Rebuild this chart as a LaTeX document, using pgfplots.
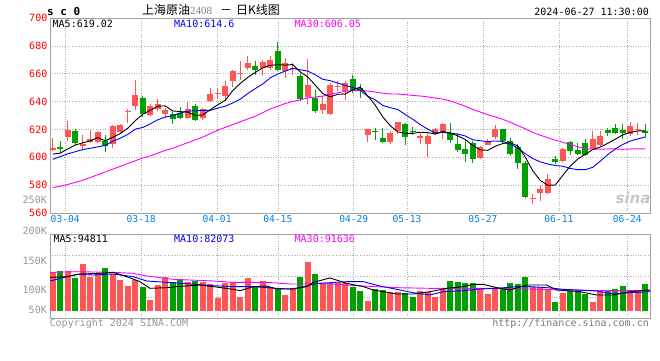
\documentclass[border=0pt]{standalone}
\usepackage{pgfplots}
\pgfplotsset{compat=1.18}
\usepackage{pgfplotstable}
\usepackage{fontspec}
\setmainfont{DejaVu Sans Mono}
\newfontfamily\mono{DejaVu Sans Mono}
\newfontfamily\cjk{Noto Sans CJK SC}
\newfontfamily\serifd{Liberation Serif}
\newfontfamily\sinafont{DejaVu Sans}
\definecolor{cred}{RGB}{255,85,85}
\definecolor{cgreen}{RGB}{0,160,0}
\definecolor{tickred}{RGB}{255,0,0}
\definecolor{datecol}{RGB}{0,128,224}
\definecolor{bordergray}{RGB}{160,160,160}
\definecolor{gridgray}{RGB}{175,175,175}
\definecolor{labgray}{RGB}{150,150,150}
\definecolor{mablue}{RGB}{0,0,255}
\definecolor{mamag}{RGB}{255,0,255}

\pgfplotstableread{
i o h l c
0 605.2 614.0 604.5 606.4
2 614.8 626.4 611.7 619.5
4 608.1 615.7 605.2 609.8
5 611.2 619.3 610.5 613.3
6 611.2 619.0 610.0 618.1
8 609.3 622.9 606.9 622.4
9 618.3 623.6 617.6 622.9
10 632.2 635.0 624.8 632.9
11 636.7 655.7 634.3 645.0
13 630.7 637.9 629.6 636.7
14 635.0 641.5 633.1 637.9
15 631.2 635.5 628.4 633.6
18 628.4 639.8 627.2 635.0
20 628.4 635.5 627.0 635.0
21 640.3 649.8 640.0 645.7
22 645.5 649.8 641.5 646.2
23 644.3 654.6 640.3 651.0
24 654.6 662.9 650.3 661.7
25 659.8 668.8 655.7 660.5
26 664.0 672.4 662.9 668.0
28 664.1 670.0 658.1 668.3
29 664.1 672.4 663.0 670.0
31 661.7 671.2 656.9 667.6
32 663.2 667.6 659.3 664.0
34 643.1 670.7 637.9 652.1
36 634.3 643.8 631.2 637.9
37 631.2 653.3 630.2 651.7
38 650.5 654.5 647.4 651.2
39 647.9 654.5 641.4 653.3
42 615.9 620.2 611.0 620.0
45 611.0 618.8 609.3 617.1
46 618.8 625.5 616.4 625.2
49 613.8 617.6 609.3 615.2
50 609.3 616.4 600.5 615.2
51 616.4 621.2 615.7 620.5
52 617.6 624.3 612.9 623.6
57 599.8 608.1 598.6 607.6
58 608.8 613.3 608.5 611.0
59 614.5 622.9 612.9 620.0
64 570.3 573.6 566.4 571.0
65 574.3 580.0 568.8 577.1
66 574.5 587.9 574.0 584.3
68 597.4 606.9 596.7 605.7
72 606.2 618.8 606.0 613.3
73 608.6 618.8 608.3 615.2
77 616.4 625.2 615.2 622.4
78 619.8 624.3 615.7 620.5
}\upcandles

\pgfplotstableread{
i o h l c
1 607.4 611.7 602.9 606.2
3 618.8 620.5 608.6 610.0
7 611.7 615.7 603.8 608.1
12 642.6 644.3 629.0 631.2
16 631.2 633.1 623.6 627.2
17 631.9 636.0 627.2 628.4
19 636.7 637.9 626.0 626.5
27 665.2 669.3 659.3 662.4
30 676.0 683.1 661.7 662.9
33 658.1 659.8 640.2 642.1
35 642.6 648.6 631.9 633.1
40 656.5 659.3 646.5 648.6
41 649.8 652.9 642.6 647.4
43 618.6 621.2 612.4 617.9
44 613.6 621.2 610.5 611.0
47 623.6 624.8 608.6 614.8
48 618.6 621.9 615.7 617.9
53 617.6 624.5 610.5 612.4
54 609.3 617.6 603.8 605.2
55 605.7 612.4 596.7 602.1
56 610.0 611.7 595.7 599.0
60 620.0 620.5 610.5 611.7
61 611.7 614.0 601.0 602.1
62 607.6 609.8 591.9 595.7
63 595.7 597.4 570.5 571.2
67 599.0 601.0 595.5 596.9
69 611.0 611.7 601.4 604.5
70 605.2 610.5 601.4 602.1
71 610.0 613.3 601.0 601.7
74 619.5 621.2 615.2 617.6
75 621.2 623.6 616.4 617.1
76 619.5 623.6 613.3 617.1
79 618.8 623.6 614.0 617.6
}\dncandles

\pgfplotstableread{
i ma5 ma10 ma30
0 602.3 598.5 578.3
1 603.0 600.5 579.2
2 606.0 602.5 580.5
3 608.8 604.0 582.0
4 610.4 605.5 583.5
5 611.8 606.5 585.5
6 614.1 607.5 587.5
7 611.9 608.5 589.5
8 614.3 611.5 591.5
9 617.0 613.7 593.5
10 620.9 616.4 595.5
11 626.3 620.2 597.5
12 630.9 621.4 599.5
13 633.7 624.0 601.0
14 636.7 626.9 603.0
15 636.9 628.9 605.0
16 633.3 629.8 606.5
17 632.8 631.9 608.5
18 632.4 633.1 610.5
19 630.1 633.4 612.5
20 630.4 633.7 614.5
21 634.1 633.7 617.0
22 637.7 635.3 619.5
23 640.9 636.7 621.5
24 647.9 639.0 623.5
25 653.0 641.7 625.5
26 657.4 645.8 627.5
27 660.9 649.3 629.5
28 664.3 652.6 632.0
29 666.0 657.0 634.7
30 666.5 659.8 636.6
31 666.2 661.9 638.6
32 666.6 663.8 640.1
33 661.3 662.8 641.2
34 657.7 661.9 642.6
35 651.8 659.2 643.3
36 645.8 656.0 643.9
37 643.4 655.0 645.4
38 645.2 653.3 646.3
39 645.4 651.6 647.3
40 648.5 650.2 647.9
41 650.4 648.1 647.9
42 644.1 643.8 647.6
43 637.4 641.3 646.9
44 629.0 637.2 646.0
45 622.7 635.6 645.5
46 618.2 634.3 645.4
47 617.2 630.7 645.0
48 617.2 627.3 644.4
49 618.0 623.5 644.0
50 617.7 620.2 643.4
51 616.7 617.5 642.5
52 618.5 617.9 641.8
53 617.4 617.3 640.5
54 615.4 616.7 638.6
55 612.8 615.3 636.7
56 608.5 612.6 634.4
57 605.3 611.9 632.5
58 605.0 611.2 630.6
59 607.9 611.7 629.0
60 609.9 611.4 627.3
61 610.5 609.5 625.1
62 608.1 606.7 622.8
63 600.1 602.6 620.5
64 590.3 599.1 617.8
65 583.4 596.7 615.9
66 579.9 595.2 614.1
67 580.1 594.1 612.3
68 587.0 593.6 610.8
69 593.7 592.0 609.2
70 598.7 591.1 607.6
71 602.2 591.1 606.1
72 605.5 592.8 605.9
73 607.4 597.2 605.8
74 610.0 601.9 606.0
75 613.0 605.9 606.0
76 616.1 609.2 605.7
77 617.9 611.7 606.0
78 618.9 613.2 606.1
79 619.0 614.6 606.05
}\matable

\pgfplotstableread{
i v
0 131.5
2 133.9
4 147.0
5 123.8
6 131.0
8 128.0
9 117.9
10 107.7
11 117.9
13 82.1
14 108.9
15 122.6
18 114.9
20 114.9
21 110.7
22 86.3
23 113.1
24 114.9
25 88.1
26 121.4
28 116.1
29 105.4
31 91.1
32 103.0
34 150.6
36 111.9
37 111.9
38 111.9
39 111.9
42 81.0
45 97.0
46 97.0
49 98.8
50 97.0
51 86.9
52 103.0
57 103.0
58 92.9
59 103.0
64 106.0
65 106.0
66 101.8
68 95.2
72 79.2
73 100.0
77 98.2
78 98.2
}\volup

\pgfplotstableread{
i v
1 133.9
3 122.0
7 139.9
12 105.4
16 114.9
17 119.6
19 116.1
27 107.1
30 103.0
33 122.6
35 129.2
40 106.0
41 98.8
43 101.8
44 100.0
47 95.2
48 88.1
53 116.1
54 114.3
55 113.1
56 113.1
60 103.0
61 113.1
62 110.7
63 123.2
67 79.2
69 98.8
70 98.2
71 92.9
74 98.2
75 101.8
76 107.1
79 110.7
}\voldn

\pgfplotsset{
  klinepanel/.style={
    anchor=south west, scale only axis, width=600pt,
    xmin=0, xmax=600,
    axis line style={bordergray, line width=0.9pt},
    xtick={15.19,91.14,167.09,227.85,303.8,356.97,432.92,508.87,577.22},
    major tick length=0pt,
    grid=major,
    major grid style={gridgray, dotted, line width=0.7pt},
  },
  candle/.style 2 args={forget plot, mark=none, draw=none,
    error bars/.cd, y dir=minus, y explicit, error mark=none,
    error bar style={draw=#1, line width=#2}},
}

\begin{document}
\begin{tikzpicture}[x=1pt,y=1pt]
\useasboundingbox (0,0) rectangle (660,360);

% ---------- price panel ----------
\begin{axis}[klinepanel, at={(50pt,147pt)}, height=195pt,
  ymin=560, ymax=700,
  ytick={560,580,600,620,640,660,680,700},
  yticklabels={560,580,600,620,640,660,680,700},
  xticklabels={03-04,03-18,04-01,04-15,04-29,05-13,05-27,06-11,06-24},
  yticklabel style={tickred, font=\mono\fontsize{10}{11}\selectfont, inner sep=2.5pt},
  xticklabel style={datecol, font=\mono\fontsize{9.6}{10}\selectfont, inner sep=2.5pt},
]
% wicks
\addplot[candle={cred}{1pt}]
  table[x expr=2.75+7.5*\thisrow{i}, y=h, y error minus expr=\thisrow{h}-\thisrow{l}] {\upcandles};
\addplot[candle={cgreen}{1pt}]
  table[x expr=2.75+7.5*\thisrow{i}, y=h, y error minus expr=\thisrow{h}-\thisrow{l}] {\dncandles};
% bodies
\addplot[candle={cred}{5.6pt}]
  table[x expr=2.75+7.5*\thisrow{i}, y=c, y error minus expr=\thisrow{c}-\thisrow{o}] {\upcandles};
\addplot[candle={cgreen}{5.6pt}]
  table[x expr=2.75+7.5*\thisrow{i}, y=o, y error minus expr=\thisrow{o}-\thisrow{c}] {\dncandles};
% moving averages
\addplot[mamag, line width=0.9pt, mark=none] table[x expr=2.75+7.5*\thisrow{i}, y=ma30] {\matable};
\addplot[mablue, line width=0.9pt, mark=none] table[x expr=2.75+7.5*\thisrow{i}, y=ma10] {\matable};
\addplot[black, line width=0.9pt, mark=none] table[x expr=2.75+7.5*\thisrow{i}, y=ma5] {\matable};
\end{axis}

% ---------- volume panel ----------
\begin{axis}[klinepanel, at={(50pt,42pt)}, height=84pt,
  ymin=50, ymax=200,
  ytick={87.5,125,162.5}, yticklabels={},
  xticklabels={},
]
\addplot[candle={cred}{6pt}]
  table[x expr=2.75+7.5*\thisrow{i}, y=v, y error minus expr=\thisrow{v}-63] {\volup};
\addplot[candle={cgreen}{6pt}]
  table[x expr=2.75+7.5*\thisrow{i}, y=v, y error minus expr=\thisrow{v}-63] {\voldn};
\addplot[mamag, line width=0.9pt, mark=none] coordinates {
(0,131.5) (26.7,132.7) (63.3,131.5) (83.3,129.8) (96.7,125) (123.3,119.1) (163.3,116.1) (183.3,113.7) (216.7,113.7) (240,110.7) (280,110.7) (313.3,107.1) (346.7,104.2) (380,103) (446.7,103) (480,101.8) (513.3,100) (546.7,98.8) (600,98.8)};
\addplot[mablue, line width=0.9pt, mark=none] coordinates {
(0,116.1) (26.7,128) (43.3,126.8) (63.3,128.6) (83.3,123.8) (96.7,116.1) (116.7,113.7) (163.3,107.7) (183.3,106) (203.3,106) (226.7,103) (240,101.8) (250,104.2) (266.7,111.9) (280,113.1) (296.7,114.9) (313.3,114.9) (330,107.1) (346.7,101.2) (363.3,95.2) (380,91.1) (393.3,97) (413.3,98.8) (430,101.8) (446.7,103) (466.7,106) (480,106) (496.7,104.2) (513.3,101.2) (530,100) (546.7,98.2) (563.3,92.9) (580,95.2) (600,97)};
\addplot[black, line width=0.9pt, mark=none] coordinates {
(0,122.6) (16.7,123.8) (30,128.6) (50,129.8) (63.3,131.5) (76.7,123.8) (90,114.9) (100,103) (116.7,104.2) (126.7,106) (150,108.9) (163.3,106) (183.3,101.2) (190,98.8) (203.3,106) (216.7,107.1) (226.7,101.8) (243.3,101.8) (256.7,106) (263.3,113.7) (280,121.5) (296.7,111.9) (313.3,106) (323.3,100) (346.7,92.9) (363.3,92.9) (380,97) (396.7,103) (413.3,106) (423.3,110.1) (433.3,110.1) (446.7,104.2) (460,100) (476.7,108.9) (496.7,108.9) (506.7,100) (530,97) (546.7,91.1) (563.3,91.1) (580,97) (600,100)};
\end{axis}

% ---------- texts ----------
\node[anchor=west, inner sep=0] at (47,348.5) {\mono\bfseries\fontsize{11}{12}\selectfont s c 0};
\node[anchor=west, inner sep=0] at (142,350) {{\cjk\fontsize{12}{13}\selectfont 上海原油}{\serifd\fontsize{11}{12}\selectfont\color{gray}2408}\hspace{8pt}{\cjk\fontsize{12}{13}\selectfont －}\hspace{4pt}{\cjk\fontsize{12}{13}\selectfont 日K线图}};
\node[anchor=east, inner sep=0] at (649,348.5) {\mono\fontsize{10}{11}\selectfont 2024-06-27 11:30:00};

\node[anchor=west, inner sep=0] at (52.5,336) {\mono\fontsize{10}{11}\selectfont MA5:619.02};
\node[anchor=west, inner sep=0] at (174,336) {\mono\fontsize{10}{11}\selectfont\color{mablue}MA10:614.6};
\node[anchor=west, inner sep=0] at (294.5,336) {\mono\fontsize{10}{11}\selectfont\color{mamag}MA30:606.05};

\node[anchor=west, inner sep=0] at (53.5,121.5) {\mono\fontsize{10}{11}\selectfont MA5:94811};
\node[anchor=west, inner sep=0] at (174,121.5) {\mono\fontsize{10}{11}\selectfont\color{mablue}MA10:82073};
\node[anchor=west, inner sep=0] at (294.5,121.5) {\mono\fontsize{10}{11}\selectfont\color{mamag}MA30:91636};

\begin{scope}[every node/.style={anchor=east, inner sep=0, text=labgray, font=\mono\fontsize{10}{11}\selectfont}]
\node at (47,160) {250K};
\node at (47,129) {200K};
\node at (47,99.5) {150K};
\node at (47,70) {100K};
\node at (47,50) {50K};
\end{scope}

\node[anchor=west, inner sep=0, text=labgray] at (49.5,36) {\mono\fontsize{10}{11}\selectfont Copyright 2024 SINA.COM};
\node[anchor=east, inner sep=0, text=labgray!80!black] at (649,36) {\mono\fontsize{10}{11}\selectfont http://finance.sina.com.cn};

\node[anchor=center, inner sep=0, text=black!22] at (633,162) {\sinafont\bfseries\itshape\fontsize{15}{16}\selectfont sina};
\end{tikzpicture}
\end{document}
